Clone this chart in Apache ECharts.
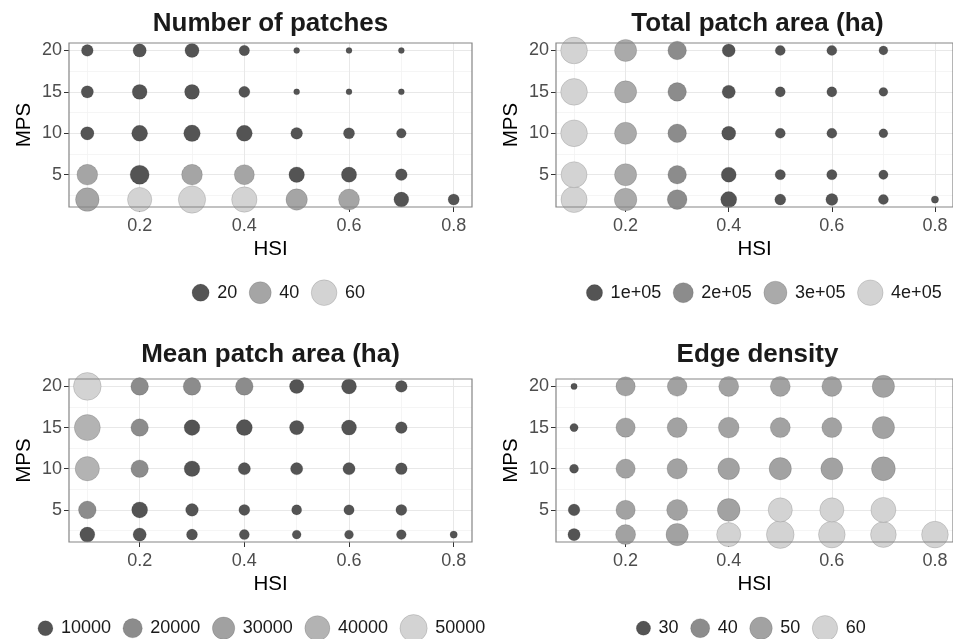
<!DOCTYPE html>
<html><head><meta charset="utf-8">
<script src="https://cdn.jsdelivr.net/npm/echarts@6/dist/echarts.min.js"></script>
<style>html,body{margin:0;padding:0;background:#fff}#c{width:953px;height:639px}</style>
</head><body><div id="c"></div>
<script>
// ---- data ----
const HSI = [0.1, 0.2, 0.3, 0.4, 0.5, 0.6, 0.7, 0.8];
const MPS = [2, 5, 10, 15, 20];
const HSI_TICKS = [0.2, 0.4, 0.6, 0.8];
const MPS_TICKS = [5, 10, 15, 20];

// rows follow MPS order (2, 5, 10, 15, 20); columns follow HSI
const numberOfPatches = [
  [48, 52, 70, 58, 37, 35, 13, 5],
  [34, 27, 34, 31, 15, 14, 6, null],
  [9, 16, 18, 16, 6, 5, 3, null],
  [7, 13, 13, 5, 1, 1, 1, null],
  [6, 9, 11, 4, 1, 1, 1, null]
];
const totalPatchArea = [
  [425000, 280000, 187000, 95000, 21000, 31000, 14000, 5000],
  [418000, 265000, 155000, 75000, 16000, 16000, 10000, null],
  [450000, 265000, 155000, 58000, 14000, 14000, 8000, null],
  [450000, 265000, 155000, 48000, 14000, 14000, 8000, null],
  [450000, 265000, 155000, 43000, 14000, 14000, 8000, null]
];
const meanPatchArea = [
  [10000, 7200, 4600, 3900, 3300, 3300, 3700, 3000],
  [15700, 11900, 6400, 4600, 3900, 4100, 4600, null],
  [37000, 15200, 11300, 5900, 5900, 5900, 5300, null],
  [44200, 15200, 11300, 11900, 8800, 10000, 5300, null],
  [52000, 15500, 15500, 15500, 8800, 10000, 5300, null]
];
const edgeDensity = [
  [27.2, 42.4, 49.3, 55.5, 69.5, 65.3, 61.3, 65.3],
  [26.5, 40.5, 45.3, 50.6, 55.5, 55.5, 58.7, null],
  [24.3, 40.5, 43.3, 47.4, 49.3, 48.3, 54.5, null],
  [24.0, 40.5, 42.4, 44.4, 42.4, 42.4, 49.3, null],
  [23.6, 40.5, 41.6, 42.4, 42.4, 42.4, 49.3, null]
];

const npBreaks = [20, 40, 60];
const npLabels = ['20', '40', '60'];
const tpaBreaks = [100000, 200000, 300000, 400000];
const tpaLabels = ['1e+05', '2e+05', '3e+05', '4e+05'];
const mpaBreaks = [10000, 20000, 30000, 40000, 50000];
const mpaLabels = ['10000', '20000', '30000', '40000', '50000'];
const edBreaks = [30, 40, 50, 60];
const edLabels = ['30', '40', '50', '60'];

const titles = ['Number of patches', 'Total patch area (ha)', 'Mean patch area (ha)', 'Edge density'];

// ---- styling / layout ----
const FONT = '"Liberation Sans", Arial, Helvetica, sans-serif';
const X_MIN = 0.065, X_MAX = 0.835, Y_MIN = 1.1, Y_MAX = 20.9;

const panels = [
  {title: titles[0], values: numberOfPatches, breaks: npBreaks, labels: npLabels,
   palette: ['#545454', '#a5a5a5', '#d3d3d3'], cuts: [30, 50], dmin: 6, dmax: 27.3,
   left: 69, top: 43, w: 403, h: 164, titleTop: 11, legendCx: 277.5, legendCy: 292.7},
  {title: titles[1], values: totalPatchArea, breaks: tpaBreaks, labels: tpaLabels,
   palette: ['#545454', '#8c8c8c', '#aaaaaa', '#d3d3d3'], cuts: [150000, 250000, 350000], dmin: 7.3, dmax: 26.7,
   left: 556, top: 43, w: 403, h: 164, titleTop: 11, legendCx: 763, legendCy: 292.7},
  {title: titles[2], values: meanPatchArea, breaks: mpaBreaks, labels: mpaLabels,
   palette: ['#545454', '#8c8c8c', '#a1a1a1', '#b3b3b3', '#d3d3d3'], cuts: [15000, 25000, 35000, 45000], dmin: 7.3, dmax: 27.7,
   left: 69, top: 379, w: 403, h: 163, titleTop: 342, legendCx: 260.6, legendCy: 628.2},
  {title: titles[3], values: edgeDensity, breaks: edBreaks, labels: edLabels,
   palette: ['#545454', '#8c8c8c', '#a2a2a2', '#d3d3d3'], cuts: [35, 40, 55], dmin: 6.3, dmax: 27.7,
   left: 556, top: 379, w: 403, h: 163, titleTop: 342, legendCx: 750, legendCy: 628.2}
];

function makeSizeFn(p) {
  const flat = p.values.flat().filter(v => v != null);
  const vmin = Math.min(...flat), vmax = Math.max(...flat);
  return v => {
    const t = Math.max(0, Math.min(1, (v - vmin) / (vmax - vmin)));
    return p.dmin + (p.dmax - p.dmin) * Math.sqrt(t);
  };
}
function makeColorFn(p) {
  return v => {
    let k = 0;
    p.cuts.forEach(c => { if (v >= c) k++; });
    return p.palette[k];
  };
}

const measureCtx = document.createElement('canvas').getContext('2d');
measureCtx.font = '18px "Liberation Sans"';

const grid = [], xAxis = [], yAxis = [], series = [], title = [], graphic = [];

panels.forEach((p, i) => {
  const sizeFn = makeSizeFn(p);
  const colorFn = makeColorFn(p);
  grid.push({left: p.left, top: p.top, width: p.w, height: p.h, show: true,
    backgroundColor: 'transparent', borderColor: '#858585', borderWidth: 1.2, z: 10});
  xAxis.push({
    gridIndex: i, type: 'value', position: 'bottom', min: X_MIN, max: X_MAX,
    name: 'HSI', nameLocation: 'middle', nameGap: 32,
    nameTextStyle: {fontSize: 20.5, color: '#000', fontFamily: FONT},
    axisLine: {show: false},
    axisTick: {show: true, customValues: HSI_TICKS, length: 5, lineStyle: {color: '#333', width: 1}},
    axisLabel: {customValues: HSI_TICKS, fontSize: 18, color: '#4d4d4d', margin: 10, fontFamily: FONT,
      formatter: v => Number(v).toFixed(1)},
    splitLine: {show: true, lineStyle: {color: '#e8e8e8', width: 1}}
  });
  xAxis.push({
    gridIndex: i, type: 'value', position: 'top', min: X_MIN, max: X_MAX,
    axisLine: {show: false}, axisTick: {show: false, customValues: [0.1, 0.3, 0.5, 0.7]},
    axisLabel: {show: false},
    splitLine: {show: true, lineStyle: {color: '#f3f3f3', width: 0.8}}
  });
  yAxis.push({
    gridIndex: i, type: 'value', position: 'left', min: Y_MIN, max: Y_MAX,
    name: 'MPS', nameLocation: 'middle', nameGap: 34, nameRotate: 90,
    nameTextStyle: {fontSize: 20.5, color: '#000', fontFamily: FONT},
    axisLine: {show: false},
    axisTick: {show: true, customValues: MPS_TICKS, length: 5, lineStyle: {color: '#333', width: 1}},
    axisLabel: {customValues: MPS_TICKS, fontSize: 18, color: '#4d4d4d', margin: 7, fontFamily: FONT},
    splitLine: {show: true, lineStyle: {color: '#e8e8e8', width: 1}}
  });
  yAxis.push({
    gridIndex: i, type: 'value', position: 'right', min: Y_MIN, max: Y_MAX,
    axisLine: {show: false}, axisTick: {show: false, customValues: [2.5, 7.5, 12.5, 17.5]},
    axisLabel: {show: false},
    splitLine: {show: true, lineStyle: {color: '#f3f3f3', width: 0.8}}
  });

  const data = [];
  MPS.forEach((m, r) => {
    HSI.forEach((h, c) => {
      const v = p.values[r][c];
      if (v != null) data.push([h, m, v]);
    });
  });
  series.push({
    type: 'scatter', xAxisIndex: 2 * i, yAxisIndex: 2 * i, data: data, clip: true,
    symbol: 'circle',
    symbolSize: val => sizeFn(val[2]),
    itemStyle: {color: params => colorFn(params.value[2]), borderColor: 'rgba(0,0,0,0.18)', borderWidth: 0.7, opacity: 1},
    emphasis: {disabled: true}
  });

  title.push({
    text: p.title, left: p.left + p.w / 2, top: p.titleTop, textAlign: 'center', padding: 0,
    textStyle: {fontSize: 26, fontWeight: 'bold', color: '#1a1a1a', fontFamily: FONT}
  });

  // legend (size + colour keys)
  const items = p.breaks.map((b, k) => {
    const d = sizeFn(b);
    return {d: d, keyW: d + 4, label: p.labels[k], tw: measureCtx.measureText(p.labels[k]).width, color: p.palette[k]};
  });
  let total = 0;
  items.forEach((it, k) => { total += it.keyW + 6 + it.tw + (k < items.length - 1 ? 10 : 0); });
  let x = p.legendCx - total / 2;
  items.forEach(it => {
    graphic.push({type: 'circle', shape: {cx: x + it.keyW / 2, cy: p.legendCy, r: it.d / 2},
      style: {fill: it.color, stroke: 'rgba(0,0,0,0.18)', lineWidth: 0.7}, silent: true});
    graphic.push({type: 'text', x: x + it.keyW + 6, y: p.legendCy,
      style: {text: it.label, fontSize: 18, fontFamily: FONT, fill: '#1a1a1a', verticalAlign: 'middle', align: 'left'},
      silent: true});
    x += it.keyW + 6 + it.tw + 10;
  });
});

const chart = echarts.init(document.getElementById('c'), null, {renderer: 'canvas'});
chart.setOption({
  animation: false,
  backgroundColor: '#fff',
  title: title, grid: grid, xAxis: xAxis, yAxis: yAxis, series: series, graphic: graphic
});
</script></body></html>
